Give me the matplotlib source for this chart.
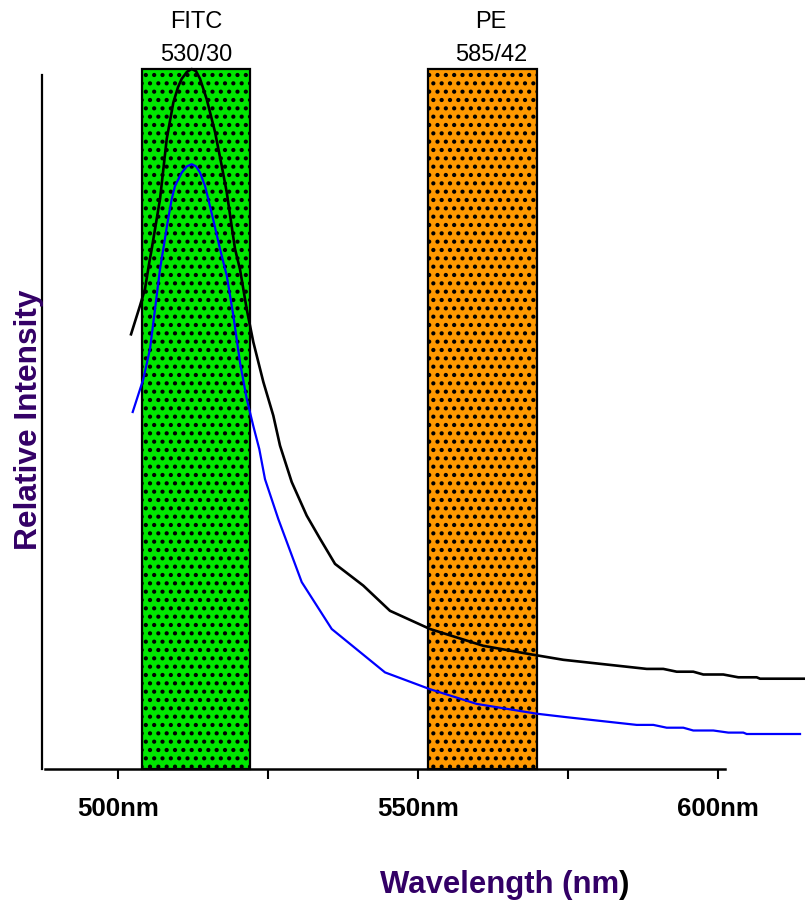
import matplotlib
matplotlib.use("Agg")
import matplotlib.pyplot as plt
from matplotlib.patches import Rectangle

plt.rcParams['font.family'] = ['Liberation Sans', 'DejaVu Sans']
plt.rcParams['hatch.linewidth'] = 1.8

# filter bands (nm)
band_top = ["FITC", "PE"]
band_bottom = ["530/30", "585/42"]
band_lo = [504.0, 551.7]
band_hi = [522.0, 569.8]
band_colors = ["#00e600", "#ff9900"]
band_label_x = [513.0, 562.2]

# emission curves (nm, relative intensity)
black_nm = [502.17, 503.67, 504.5, 505.22, 505.62, 507.0, 508.12, 509.22, 510.0, 510.62,
            511.5, 512.28, 513.0, 513.67, 514.78, 516.17, 517.28, 518.12, 519.5, 520.33,
            521.45, 522.55, 524.22, 525.88, 527.0, 528.95, 531.45, 533.67, 536.17, 540.88,
            545.33, 552.0, 560.88, 568.67, 574.22, 588.12, 590.88, 593.12, 595.88, 597.55,
            600.88, 603.38, 606.45, 607.0, 614.5]
black_int = [62.1, 66.2, 68.6, 72.4, 74.3, 81.4, 90.0, 95.2, 97.4, 98.6,
             99.6, 100.0, 99.7, 98.6, 95.7, 91.0, 86.2, 82.4, 74.3, 71.4,
             65.7, 61.0, 55.3, 50.5, 46.2, 41.0, 36.2, 32.9, 29.3, 26.2,
             22.6, 20.0, 17.6, 16.4, 15.6, 14.3, 14.3, 13.9, 13.9, 13.5,
             13.5, 13.1, 13.1, 12.9, 12.9]

blue_nm = [502.45, 504.22, 505.33, 506.17, 507.0, 507.55, 508.3, 508.95, 509.5, 510.62,
           511.5, 512.28, 513.0, 513.67, 514.5, 515.05, 516.0, 517.0, 518.12, 519.22,
           520.33, 521.45, 522.55, 523.55, 524.5, 526.72, 530.62, 535.62, 544.5, 552.0,
           559.78, 569.78, 574.78, 586.45, 589.22, 591.45, 594.22, 595.88, 599.22, 601.72,
           604.22, 604.78, 613.67]
blue_int = [51.0, 55.7, 60.0, 65.7, 71.4, 74.3, 78.3, 81.4, 83.3, 85.2,
            86.1, 86.4, 86.1, 85.2, 83.3, 81.4, 78.0, 74.3, 70.5, 64.8,
            58.1, 52.9, 49.0, 45.7, 41.4, 35.7, 26.7, 20.0, 13.8, 11.4,
            9.3, 7.9, 7.4, 6.3, 6.3, 5.9, 5.9, 5.5, 5.5, 5.2,
            5.2, 5.0, 5.0]

tick_pos = [500, 525, 550, 575, 600]
tick_labels = ["500nm", "", "550nm", "", "600nm"]

W, H = 805, 903
fig = plt.figure(figsize=(W / 100, H / 100), dpi=100)
ax = fig.add_axes([42 / W, 133 / H, 763 / W, 700 / H])
ax.set_xlim(487.333, 614.5)
ax.set_ylim(0, 100)

# bands
for lo, hi, c in zip(band_lo, band_hi, band_colors):
    ax.add_patch(Rectangle((lo, 0), hi - lo, 100, facecolor=c, edgecolor="black",
                           hatch="..", linewidth=1.6, clip_on=False, zorder=1))

ax.plot(black_nm, black_int, color="black", lw=1.9, clip_on=False, zorder=3)
ax.plot(blue_nm, blue_int, color="#0000ff", lw=1.6, clip_on=False, zorder=3)

# spines
for s in ["top", "right"]:
    ax.spines[s].set_visible(False)
ax.spines["left"].set_linewidth(1.6)
ax.spines["bottom"].set_linewidth(1.8)
ax.spines["left"].set_bounds(0, 99.1)
ax.spines["bottom"].set_bounds(487.83, 601.2)

ax.set_yticks([])
ax.set_xticks(tick_pos, tick_labels)
ax.tick_params(axis="x", direction="out", length=7.2, width=1.5, pad=12.5)
for t in ax.get_xticklabels():
    t.set_fontsize(18.6)
    t.set_fontweight("bold")

# band labels, placed above the bands
px = lambda x: 118 + (x - 500) * 6
for lx, top, bottom in zip(band_label_x, band_top, band_bottom):
    fig.text(px(lx) / W, 1 - 28 / H, top, fontsize=17, ha="center", va="baseline")
    fig.text(px(lx) / W, 1 - 61 / H, bottom, fontsize=17, ha="center", va="baseline")

purple = "#330066"
fig.text(29 / W, 1 - 420 / H, "Relative Intensity", rotation=90, fontsize=22.8,
         fontweight="bold", color=purple, ha="center", va="center")
xl = fig.text(380 / W, 1 - 893 / H, "Wavelength (nm", fontsize=22.4, fontweight="bold",
              color=purple, ha="left", va="baseline")
fig.canvas.draw()
bb = xl.get_window_extent()
fig.text(bb.x1 / W, 1 - 893 / H, ")", fontsize=22.4, fontweight="bold",
         color="black", ha="left", va="baseline")

fig.savefig("out.png", dpi=100)
